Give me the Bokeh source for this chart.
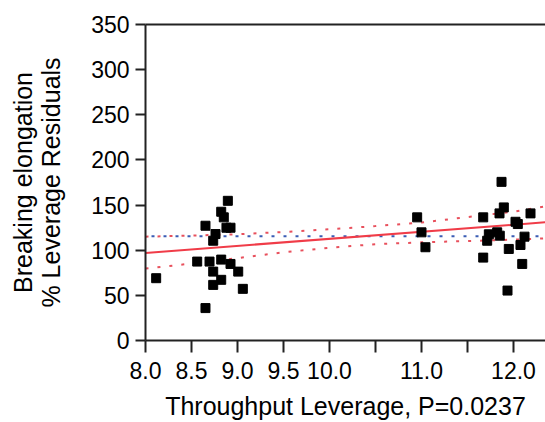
from bokeh.plotting import figure
from bokeh.models import Range1d, FixedTicker, LinearAxis
from bokeh.embed import file_html
from bokeh.resources import INLINE

# ---- data ----
x_ticks = [8.0, 8.5, 9.0, 9.5, 10.0, 10.5, 11.0, 11.5, 12.0]
x_tick_labels = ["8.0", "8.5", "9.0", "9.5", "10.0", "", "11.0", "", "12.0"]
y_ticks = [0, 50, 100, 150, 200, 250, 300, 350]

pts_x = [8.116, 8.652, 8.895, 8.823, 8.851, 8.880, 8.924, 8.761, 8.736, 8.562,
         8.696, 8.823, 8.924, 8.736, 9.008, 8.823, 8.736, 9.058, 8.652,
         10.953, 11.000, 11.043, 11.671, 11.671, 11.732, 11.714, 11.823, 11.851, 11.848,
         11.895, 11.870, 11.949, 11.935, 12.022, 12.047, 12.120, 12.076, 12.095, 12.185]
pts_y = [69.0, 127.1, 154.7, 142.6, 136.4, 124.9, 124.9, 117.9, 110.5, 87.4,
         87.4, 89.6, 84.8, 76.3, 76.3, 67.2, 61.6, 57.2, 35.9,
         136.4, 119.8, 103.3, 136.4, 91.8, 117.6, 110.5, 119.8, 116.1, 140.8,
         147.4, 175.7, 101.4, 55.3, 131.5, 129.0, 115.0, 105.8, 84.8, 140.8]

fit_x = [8.0, 12.35]
fit_y = [97.0, 130.9]

mean_x = [8.0, 12.35]
mean_y = [115.4, 115.4]

band_x = [8.0, 8.5, 9.0, 9.5, 10.0, 10.5, 11.0, 11.5, 12.0, 12.4]
band_upper = [115.0, 116.2, 117.7, 120.2, 123.2, 126.7, 130.7, 136.7, 142.7, 149.5]
band_lower = [79.7, 85.2, 91.2, 97.7, 102.7, 106.7, 108.7, 110.2, 111.7, 113.3]

FONT = "Liberation Sans"

p = figure(width=545, height=422, output_backend="svg", toolbar_location=None,
           x_range=Range1d(8.0, 12.348), y_range=Range1d(0, 350),
           min_border_left=145, min_border_right=0, min_border_top=24,
           min_border_bottom=81,
           x_axis_label="Throughput Leverage, P=0.0237",
           y_axis_label="Breaking elongation\n% Leverage Residuals")
p.outline_line_color = None
p.grid.visible = False
p.background_fill_color = "white"
p.border_fill_color = "white"

# x axis
xa = p.xaxis[0]
xa.ticker = FixedTicker(ticks=x_ticks)
xa.major_label_overrides = {t: l for t, l in zip(x_ticks, x_tick_labels)}
xa.major_tick_in = 0
xa.major_tick_out = 12
xa.minor_tick_line_color = None
xa.axis_line_width = 2
xa.major_tick_line_width = 2
xa.axis_line_color = "#222222"
xa.major_tick_line_color = "#222222"
xa.major_label_text_font = FONT
xa.major_label_text_font_size = "23px"
xa.major_label_text_color = "black"
xa.major_label_standoff = 9
xa.axis_label_text_font = FONT
xa.axis_label_text_font_size = "25px"
xa.axis_label_text_font_style = "normal"
xa.axis_label_text_color = "black"
xa.axis_label_standoff = 10

# y axis
ya = p.yaxis[0]
ya.ticker = FixedTicker(ticks=y_ticks)
ya.major_tick_in = 0
ya.major_tick_out = 10
ya.minor_tick_line_color = None
ya.axis_line_width = 2
ya.major_tick_line_width = 2
ya.axis_line_color = "#222222"
ya.major_tick_line_color = "#222222"
ya.major_label_text_font = FONT
ya.major_label_text_font_size = "23px"
ya.major_label_text_color = "black"
ya.major_label_standoff = 6
ya.axis_label_text_font = FONT
ya.axis_label_text_font_size = "25px"
ya.axis_label_text_font_style = "normal"
ya.axis_label_text_color = "black"
ya.axis_label_text_line_height = 1.0
ya.axis_label_standoff = 23

# top frame line
top = LinearAxis(ticker=FixedTicker(ticks=[]), axis_line_width=2, axis_line_color="#222222",
                 major_tick_line_color=None, minor_tick_line_color=None,
                 major_label_text_font_size="0px", major_label_standoff=0)
p.add_layout(top, "above")

# confidence bands, mean line, fit line
p.line(band_x, band_upper, line_color="#e8505c", line_width=2, line_dash="3 9")
p.line(band_x, band_lower, line_color="#e8505c", line_width=2, line_dash="3 9")
p.line(mean_x, mean_y, line_color="#3a5cb4", line_width=2, line_dash="3 9", line_dash_offset=6)
p.line(fit_x, fit_y, line_color="#f03c48", line_width=2)

# points
p.scatter(pts_x, pts_y, marker="square", size=9, color="black")

open("out.html", "w").write(file_html(p, INLINE))
